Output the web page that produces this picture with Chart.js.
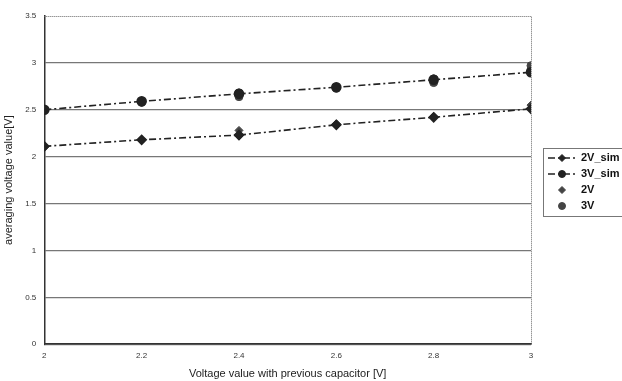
<!DOCTYPE html>
<html>
<head>
<meta charset="utf-8">
<script src="https://cdn.jsdelivr.net/npm/chart.js@4/dist/chart.umd.min.js"></script>
<style>
  html, body { margin: 0; padding: 0; background: #fff; }
  #wrap { width: 622px; height: 381px; position: relative; }
</style>
</head>
<body>
<div id="wrap"><canvas id="c"></canvas></div>
<script>
  var X_VALUES = [2, 2.2, 2.4, 2.6, 2.8, 3];
  var SIM_2V = [2.11, 2.18, 2.23, 2.34, 2.42, 2.51];
  var SIM_3V = [2.50, 2.59, 2.67, 2.74, 2.82, 2.90];
  var MEAS_2V_X = [2, 2.2, 2.4, 2.4, 2.6, 2.8, 3];
  var MEAS_2V = [2.10, 2.18, 2.22, 2.28, 2.35, 2.43, 2.55];
  var MEAS_3V_X = [2, 2.2, 2.4, 2.4, 2.6, 2.8, 2.8, 3, 3];
  var MEAS_3V = [2.50, 2.58, 2.64, 2.68, 2.73, 2.79, 2.83, 2.93, 2.97];
  var Y_TICKS = [0, 0.5, 1, 1.5, 2, 2.5, 3, 3.5];

  function pts(xs, ys) {
    return xs.map(function (x, i) { return { x: x, y: ys[i] }; });
  }

  // dotted top/right frame + boxed legend drawn by hand (Excel-like)
  var frame = {
    id: 'frame',
    afterDraw: function (chart) {
      var ctx = chart.ctx;
      var a = chart.chartArea;
      ctx.save();
      ctx.strokeStyle = '#666';
      ctx.lineWidth = 1;
      ctx.setLineDash([1, 1]);
      ctx.beginPath();
      ctx.moveTo(a.left, a.top + 0.5);
      ctx.lineTo(a.right + 0.5, a.top + 0.5);
      ctx.lineTo(a.right + 0.5, a.bottom);
      ctx.stroke();
      ctx.setLineDash([]);

      var bx = 543, by = 148, bw = 90, bh = 68;
      ctx.strokeStyle = '#777';
      ctx.lineWidth = 1;
      ctx.strokeRect(bx + 0.5, by + 0.5, bw, bh);
      ctx.font = 'bold 11px "Liberation Sans"';
      ctx.textBaseline = 'middle';
      chart.data.datasets.forEach(function (ds, i) {
        var y = by + 10 + i * 16;
        if (ds.showLine) {
          ctx.strokeStyle = ds.borderColor;
          ctx.lineWidth = 1.4;
          ctx.setLineDash(ds.borderDash);
          ctx.beginPath();
          ctx.moveTo(bx + 5, y);
          ctx.lineTo(bx + 33, y);
          ctx.stroke();
          ctx.setLineDash([]);
        }
        ctx.fillStyle = ds.backgroundColor;
        ctx.strokeStyle = ds.borderColor;
        ctx.lineWidth = 1;
        Chart.helpers.drawPoint(ctx, { pointStyle: ds.pointStyle, radius: 3.5, borderWidth: 1, rotation: 0 }, bx + 19, y);
        ctx.fillStyle = '#111';
        ctx.fillText(ds.label, bx + 38, y);
      });
      ctx.restore();
    }
  };

  new Chart(document.getElementById('c'), {
    type: 'scatter',
    data: {
      datasets: [
        { label: '2V_sim', data: pts(X_VALUES, SIM_2V), showLine: true, borderColor: '#222', backgroundColor: '#222',
          borderDash: [7, 3, 2, 3], borderWidth: 1.6, pointStyle: 'rectRot', pointRadius: 4.5 },
        { label: '3V_sim', data: pts(X_VALUES, SIM_3V), showLine: true, borderColor: '#222', backgroundColor: '#222',
          borderDash: [7, 3, 2, 3], borderWidth: 1.6, pointStyle: 'circle', pointRadius: 4.5 },
        { label: '2V', data: pts(MEAS_2V_X, MEAS_2V), showLine: false, borderColor: '#444', backgroundColor: '#444',
          pointStyle: 'rectRot', pointRadius: 4 },
        { label: '3V', data: pts(MEAS_3V_X, MEAS_3V), showLine: false, borderColor: '#444', backgroundColor: '#444',
          pointStyle: 'circle', pointRadius: 4 }
      ]
    },
    options: {
      responsive: true,
      maintainAspectRatio: false,
      animation: false,
      layout: { padding: { top: 16, right: 91, bottom: 0, left: 2 } },
      plugins: {
        tooltip: { enabled: false },
        legend: { display: false }
      },
      scales: {
        x: {
          type: 'linear',
          min: 2, max: 3,
          grid: { display: false, drawTicks: false },
          border: { color: '#333', width: 1.5 },
          ticks: { stepSize: 0.2, color: '#333', font: { family: 'Liberation Sans', size: 8 }, padding: 7,
            callback: function (v) { return String(Math.round(v * 10) / 10); } },
          title: { display: true, text: 'Voltage value with previous capacitor [V]', color: '#222',
            font: { family: 'Liberation Sans', size: 11 }, padding: { top: 0, bottom: 0 } }
        },
        y: {
          min: 0, max: 3.5,
          afterBuildTicks: function (s) { s.ticks = Y_TICKS.map(function (v) { return { value: v }; }); },
          grid: { color: function (c) { return c.tick && c.tick.value === 3.5 ? 'rgba(0,0,0,0)' : '#777'; }, lineWidth: 1.2, drawTicks: false },
          border: { color: '#333', width: 1.5 },
          ticks: { color: '#333', font: { family: 'Liberation Sans', size: 8 }, padding: 8,
            callback: function (v) { return String(v); } },
          title: { display: true, text: 'averaging voltage value[V]', color: '#222',
            font: { family: 'Liberation Sans', size: 11 }, padding: { top: 0, bottom: 2 } }
        }
      }
    },
    plugins: [frame]
  });
</script>
</body>
</html>
